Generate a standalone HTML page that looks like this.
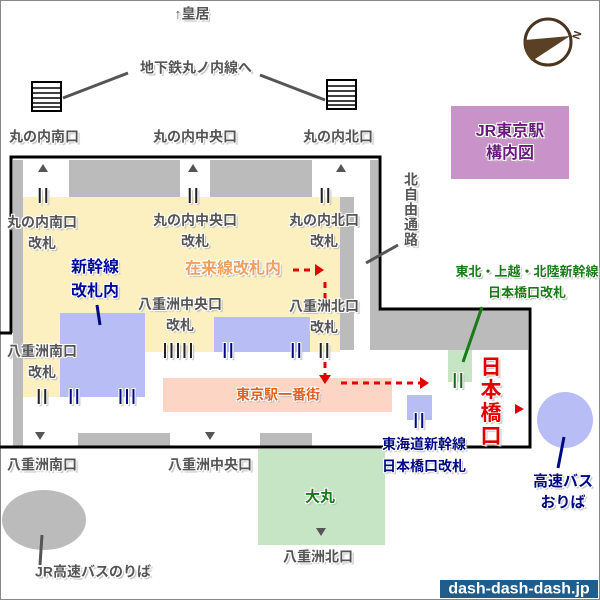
<!DOCTYPE html>
<html><head><meta charset="utf-8"><style>
body{margin:0;width:600px;height:600px;position:relative;background:#fff;overflow:hidden;font-family:"Liberation Sans","Noto Sans CJK JP",sans-serif}
.r{position:absolute}
.t{position:absolute;transform:translate(-50%,-50%);white-space:nowrap;font-weight:bold;font-size:14px;color:#555;line-height:21px;text-align:center;text-shadow:1px 1px 0 #fff,-1px -1px 0 #fff,1px -1px 0 #fff,-1px 1px 0 #fff,2px 2px 1px #bbb}
.g{font-size:16px;color:#222;letter-spacing:2px;font-family:"Liberation Sans",sans-serif}
.gy{background:#bbb}
</style></head><body>
<div class="r" style="left:0;top:0;width:598px;height:598px;border:1px solid #888"></div>
<div class="r gy" style="left:13px;top:160px;width:10px;height:287px"></div>
<div class="r gy" style="left:69px;top:160px;width:111px;height:37px"></div>
<div class="r gy" style="left:210px;top:160px;width:102px;height:37px"></div>
<div class="r gy" style="left:370px;top:160px;width:8px;height:150px"></div>
<div class="r gy" style="left:340px;top:197px;width:14px;height:153px"></div>
<div class="r gy" style="left:370px;top:310px;width:158px;height:40px"></div>
<div class="r" style="left:23px;top:197px;width:317px;height:155px;background:#fdf0c0"></div>
<div class="r" style="left:23px;top:352px;width:37px;height:45px;background:#fdf0c0"></div>
<div class="r" style="left:60px;top:313px;width:85px;height:84px;background:#b8bdf5"></div>
<div class="r" style="left:214px;top:317px;width:96px;height:35px;background:#b8bdf5"></div>
<div class="r" style="left:163px;top:378px;width:229px;height:34px;background:#fcd5c5"></div>
<div class="r" style="left:407px;top:395px;width:25px;height:25px;background:#b8bdf5"></div>
<div class="r" style="left:448px;top:350px;width:24px;height:32px;background:#c5e5c5"></div>
<div class="r gy" style="left:78px;top:433px;width:92px;height:14px"></div>
<div class="r gy" style="left:260px;top:433px;width:52px;height:14px"></div>
<div class="r" style="left:258px;top:449px;width:127px;height:96px;background:#c5e5c5"></div>
<div class="r" style="left:451px;top:106px;width:118px;height:73px;background:#c993c9"></div>
<div class="r" style="left:440px;top:580px;width:158px;height:18px;background:#1e5d8c"></div>
<svg class="r" style="left:0;top:0" width="600" height="600">
<g fill="none" stroke="#000" stroke-width="3">
<polyline points="11,333 11,157 380,157 380,309 530,309 530,447 0,447"/>
<line x1="0" y1="333" x2="12" y2="333"/>
</g>
<ellipse cx="44" cy="520" rx="42" ry="30" fill="#bbb"/>
<circle cx="565" cy="420" r="28" fill="#b8bdf5"/>
<g stroke="#555" stroke-width="3">
<line x1="63" y1="98" x2="128" y2="73"/><line x1="260" y1="75" x2="325" y2="100"/>
<line x1="366" y1="263" x2="398" y2="245"/><line x1="42" y1="535" x2="40" y2="565"/>
</g>
<line x1="97" y1="305" x2="100" y2="325" stroke="#000a80" stroke-width="3"/>
<line x1="564" y1="437" x2="558" y2="468" stroke="#000a80" stroke-width="3"/>
<line x1="482" y1="307" x2="463" y2="362" stroke="#1a7a1a" stroke-width="3"/>
<g fill="#fff" stroke="#000" stroke-width="2">
<rect x="32" y="82" width="29" height="29"/><rect x="327" y="80" width="29" height="29"/></g>
<g stroke="#000" stroke-width="1.5">
<path d="M32 88h29M32 93h29M32 98h29M32 103h29M32 107h29"/>
<path d="M327 86h29M327 91h29M327 96h29M327 101h29M327 105h29"/></g>
<circle cx="548" cy="42" r="23" fill="#fff" stroke="#4a3520" stroke-width="3"/>
<path d="M570 36 L532 61 A23 23 0 0 1 525 40 Z" fill="#5a4025"/>
<text x="572" y="38" font-size="11" font-weight="bold" fill="#4a3520" transform="rotate(-70 577 34)">N</text>
<g fill="#555">
<path d="M38 172l5-8 5 8z"/><path d="M188 172l5-8 5 8z"/><path d="M336 172l5-8 5 8z"/>
<path d="M35 432l5 8 5-8z"/><path d="M205 432l5 8 5-8z"/><path d="M316 528l5 8 5-8z"/></g>
<g stroke="#e00000" stroke-width="3" stroke-dasharray="6,5" fill="none">
<line x1="293" y1="270" x2="315" y2="270"/><line x1="325" y1="282" x2="325" y2="300"/>
<line x1="325" y1="362" x2="325" y2="375"/><line x1="341" y1="383" x2="420" y2="383"/></g>
<g fill="#e00000"><path d="M315 264l9 6-9 6z"/><path d="M319 375l6 9 6-9z"/><path d="M420 377l9 6-9 6z"/><path d="M515 404l9 5-9 5z"/></g>
</svg>
<div class="t" style="left:192px;top:14px">↑皇居</div>
<div class="t" style="left:196px;top:68px">地下鉄丸ノ内線へ</div>
<div class="t" style="left:44px;top:137px">丸の内南口</div>
<div class="t" style="left:195px;top:137px">丸の内中央口</div>
<div class="t" style="left:338px;top:137px">丸の内北口</div>
<div class="t g" style="left:44px;top:195px">||</div>
<div class="t g" style="left:194px;top:195px">||</div>
<div class="t g" style="left:326px;top:195px">||</div>
<div class="t" style="left:42px;top:233px">丸の内南口<br>改札</div>
<div class="t" style="left:195px;top:231px">丸の内中央口<br>改札</div>
<div class="t" style="left:324px;top:231px">丸の内北口<br>改札</div>
<div class="t" style="left:95px;top:280px;color:#000a9a;font-size:16px;line-height:24px">新幹線<br>改札内</div>
<div class="t" style="left:233px;top:269px;color:#f0a060;font-size:16px">在来線改札内</div>
<div class="t" style="left:180px;top:315px">八重洲中央口<br>改札</div>
<div class="t" style="left:324px;top:317px">八重洲北口<br>改札</div>
<div class="t" style="left:42px;top:362px">八重洲南口<br>改札</div>
<div class="t g" style="left:43px;top:396px">||</div>
<div class="t g" style="left:75px;top:396px;color:#000a80">||</div>
<div class="t g" style="left:128px;top:396px;color:#000a80">|||</div>
<div class="t g" style="left:179px;top:350px">|||||</div>
<div class="t g" style="left:229px;top:350px;color:#000a80">||</div>
<div class="t g" style="left:297px;top:350px;color:#000a80">||</div>
<div class="t g" style="left:325px;top:350px">||</div>
<div class="t g" style="left:459px;top:380px;color:#1a6a1a">||</div>
<div class="t g" style="left:420px;top:420px;color:#000a80">||</div>
<div class="t" style="left:278px;top:395px;color:#e06020">東京駅一番街</div>
<div class="t" style="left:42px;top:465px">八重洲南口</div>
<div class="t" style="left:210px;top:465px">八重洲中央口</div>
<div class="t" style="left:318px;top:557px">八重洲北口</div>
<div class="t" style="left:320px;top:497px;color:#1a7a1a;font-size:15px">大丸</div>
<div class="t" style="left:491px;top:402px;color:#e00000;font-size:21px;line-height:23px">日<br>本<br>橋<br>口</div>
<div class="t" style="left:527px;top:282px;color:#1a7a1a;font-size:13px;line-height:21px">東北・上越・北陸新幹線<br>日本橋口改札</div>
<div class="t" style="left:424px;top:455px;color:#000a80;line-height:22px">東海道新幹線<br>日本橋口改札</div>
<div class="t" style="left:563px;top:492px;color:#000a80;font-size:15px;line-height:21px">高速バス<br>おりば</div>
<div class="t" style="left:93px;top:572px">JR高速バスのりば</div>
<div class="t" style="left:411px;top:210px;line-height:15px">北<br>自<br>由<br>通<br>路</div>
<div class="t" style="left:510px;top:143px;color:#6a1a7a;font-size:16px;line-height:22px">JR東京駅<br>構内図</div>
<div class="t" style="left:519px;top:589px;color:#fff;font-size:16px;text-shadow:none">dash-dash-dash.jp</div>
</body></html>
